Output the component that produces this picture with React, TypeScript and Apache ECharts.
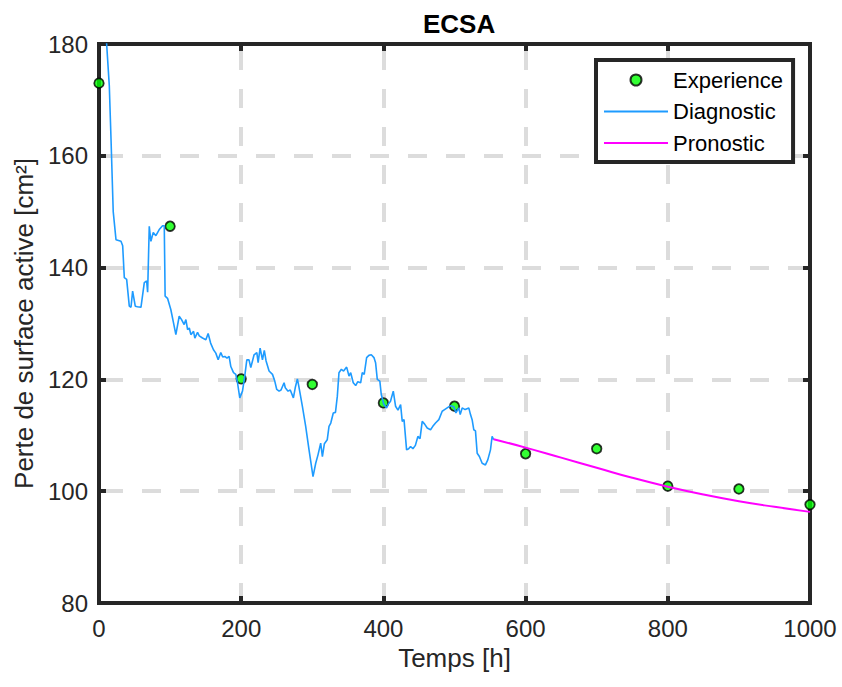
import React, { useEffect, useRef } from 'react';
import * as echarts from 'echarts';

const xTickValues = [0, 200, 400, 600, 800, 1000];
const yTickValues = [80, 100, 120, 140, 160, 180];

const experienceHours = [0, 100, 200, 300, 400, 500, 600, 700, 800, 900, 1000];
const experienceValues = [173, 147.4, 120.1, 119.1, 115.8, 115.2, 106.7, 107.6, 100.9, 100.4, 97.6];

const diagnosticHours = [
  9, 14.5, 16.9, 20, 23.9, 30.9, 33.3, 35.6, 38.9, 42.6, 45, 47.3, 51, 54, 59, 63.7, 67, 68.4, 70.7, 73,
  76.3, 80, 84.7, 89.4, 91.8, 93, 96.4, 101, 104.8, 108.1, 112.8, 116.1, 119.8, 122.2, 124.6, 127, 129.2, 133, 134.8, 138.6,
  141, 145.6, 150.3, 153.5, 157, 161, 164.3, 167.6, 171.3, 174, 177, 180, 183, 185.4, 189.2, 192.4, 194.8, 198, 201.8, 205,
  207.9, 211, 213.5, 218.1, 222, 223.8, 226.6, 229.9, 232.5, 235, 239.2, 244, 247.2, 250, 253.3, 256, 260.3, 262, 265.9, 269,
  273.4, 276, 279, 281, 286, 290.7, 295.4, 301, 304.8, 308, 311.8, 314.2, 317, 321, 323.5, 326, 329.5, 332.6, 335.2, 337.5,
  340.9, 344, 348.3, 351.6, 354, 357.6, 361, 364, 368, 370.3, 373, 376.4, 379.6, 383, 386.7, 389, 391.4, 395, 397, 400.7,
  404.5, 407, 410, 413.9, 417.1, 420.5, 424.2, 426.5, 429, 432.6, 435.5, 438.2, 441.5, 445, 448.5, 451.5, 454.6, 458, 461.6, 466.3,
  469.5, 473.3, 478, 482.7, 485, 489.7, 494.4, 499, 502, 506, 508, 510.8, 515, 520.1, 522.5, 524.8, 527.1, 529.5, 531.9, 535,
  538.9, 543.5, 546.8, 550.6, 552.9, 555.2,
];
const diagnosticValues = [
  183.5, 172.5, 163, 150, 145, 144.7, 143.9, 138.2, 137.9, 133.1, 132.9, 135.8, 133.1, 133, 132.9, 137.3, 137.6, 135.6, 147.4, 144.7,
  146.3, 145.7, 146.8, 147.5, 147.5, 134.9, 134.5, 132.5, 130.1, 128, 131.3, 130.7, 129.8, 130.7, 128.9, 129.2, 128, 128.6, 127.4, 128.4,
  127.8, 127.4, 127.1, 128.2, 126.5, 125.3, 124.7, 123.5, 124.8, 124, 124.1, 123.8, 124.1, 122.3, 121.2, 120.9, 119.4, 116.7, 117.9, 120.6,
  123.5, 123.5, 122.1, 124.4, 124.8, 123, 125.6, 123.5, 125.2, 123.3, 121.5, 120.9, 119.7, 118.2, 117.9, 118.1, 119.4, 118.5, 117.9, 118.1,
  116.7, 118.5, 120.1, 118.8, 115.2, 111.6, 107.4, 102.6, 105, 106.5, 108.6, 106.2, 108.5, 109.2, 111.6, 112.2, 114, 114.1, 117, 121.2,
  121.8, 121.5, 122.2, 120.6, 121.2, 119.4, 118.9, 119.6, 119.4, 121.2, 120.9, 123.9, 124.3, 124.4, 123.9, 123, 120, 119.7, 117.3, 115.5,
  114.9, 115.6, 116.1, 117.9, 115.2, 114.5, 115.5, 112.5, 112.8, 107.4, 107.6, 108, 107.6, 108.2, 109.8, 109.4, 112.5, 112, 111.3, 111,
  111.6, 112.2, 112.8, 114.3, 114.5, 114.9, 115.3, 115.1, 114, 114.9, 113.7, 114.9, 114.6, 114.9, 113.7, 112.8, 111, 110.8, 106.8, 106.2,
  105, 104.7, 105.6, 107.4, 109.8, 109.2,
];

const pronosticHours = [555, 600, 650, 700, 750, 800, 850, 900, 950, 1000];
const pronosticValues = [109.3, 107.8, 106, 104.2, 102.4, 100.8, 99.4, 98.2, 97.2, 96.3];

const FONT = "'Liberation Sans', Arial, Helvetica, sans-serif";
const AXIS_COLOR = '#262626';
const LINE_ICON = 'path://M0,0 L32,0 L32,1 L0,1 Z';

export default function App() {
  const ref = useRef<HTMLDivElement>(null);

  useEffect(() => {
    if (!ref.current) return;
    const chart = echarts.init(ref.current, undefined, { renderer: 'svg' });
    const zip = (xs: number[], ys: number[]) => xs.map((x, i) => [x, ys[i]]);
    const plain = (v: number) => String(v);

    const frameLine = { show: true, onZero: false, lineStyle: { color: AXIS_COLOR, width: 4, cap: 'square' } };
    const tick = { show: true, inside: true, length: 7, lineStyle: { color: AXIS_COLOR, width: 4 } };

    const baseX = {
      type: 'value' as const,
      min: xTickValues[0],
      max: xTickValues[xTickValues.length - 1],
      interval: 200,
    };
    const baseY = {
      type: 'value' as const,
      min: yTickValues[0],
      max: yTickValues[yTickValues.length - 1],
      interval: 20,
    };

    chart.setOption({
      animation: false,
      backgroundColor: '#ffffff',
      textStyle: { fontFamily: FONT },
      title: {
        text: 'ECSA',
        left: 418,
        top: 6,
        textStyle: { fontFamily: FONT, fontSize: 26, fontWeight: 'bold', color: '#000000' },
      },
      grid: {
        left: 99,
        right: 32,
        top: 44,
        bottom: 84,
        show: false,
      },
      legend: {
        orient: 'vertical',
        left: 596,
        top: 60,
        itemWidth: 64,
        itemHeight: 11,
        itemGap: 7.5,
        padding: [8, 10, 7, 8],
        borderColor: AXIS_COLOR,
        borderWidth: 4,
        backgroundColor: '#ffffff',
        textStyle: { fontFamily: FONT, fontSize: 22, lineHeight: 24, color: '#000000' },
        data: [
          { name: 'Experience', icon: 'circle' },
          { name: 'Diagnostic', icon: LINE_ICON },
          { name: 'Pronostic', icon: LINE_ICON },
        ],
      },
      xAxis: [
        {
          ...baseX,
          position: 'bottom',
          name: 'Temps [h]',
          nameLocation: 'middle',
          nameGap: 42,
          nameTextStyle: { fontFamily: FONT, fontSize: 26, color: AXIS_COLOR },
          axisLine: frameLine,
          axisTick: tick,
          axisLabel: { fontFamily: FONT, fontSize: 24, color: AXIS_COLOR, margin: 13, formatter: plain },
          splitLine: {
            show: true,
            showMinLine: false,
            showMaxLine: false,
            lineStyle: { color: '#dcdcdc', width: 4, type: [19, 19], dashOffset: 31 },
          },
        },
        {
          ...baseX,
          position: 'top',
          axisLine: frameLine,
          axisTick: tick,
          axisLabel: { show: false },
          splitLine: { show: false },
        },
      ],
      yAxis: [
        {
          ...baseY,
          position: 'left',
          name: 'Perte de surface active [cm²]',
          nameLocation: 'middle',
          nameGap: 58,
          nameTextStyle: { fontFamily: FONT, fontSize: 26, color: AXIS_COLOR },
          axisLine: frameLine,
          axisTick: tick,
          axisLabel: { fontFamily: FONT, fontSize: 24, color: AXIS_COLOR, margin: 11, formatter: plain },
          splitLine: {
            show: true,
            showMinLine: false,
            showMaxLine: false,
            lineStyle: { color: '#dcdcdc', width: 4, type: [19, 19], dashOffset: 33 },
          },
        },
        {
          ...baseY,
          position: 'right',
          axisLine: frameLine,
          axisTick: tick,
          axisLabel: { show: false },
          splitLine: { show: false },
        },
      ],
      series: [
        {
          name: 'Experience',
          type: 'scatter',
          xAxisIndex: 0,
          yAxisIndex: 0,
          symbol: 'circle',
          symbolSize: 9.5,
          z: 5,
          itemStyle: { color: '#00ff00', borderColor: '#000000', borderWidth: 1.8 },
          data: zip(experienceHours, experienceValues),
        },
        {
          name: 'Diagnostic',
          type: 'line',
          xAxisIndex: 0,
          yAxisIndex: 0,
          symbol: 'none',
          z: 6,
          lineStyle: { color: '#1e9bff', width: 1.6 },
          itemStyle: { color: '#1e9bff' },
          data: zip(diagnosticHours, diagnosticValues),
        },
        {
          name: 'Pronostic',
          type: 'line',
          xAxisIndex: 0,
          yAxisIndex: 0,
          symbol: 'none',
          smooth: true,
          z: 6,
          lineStyle: { color: '#ff00ff', width: 2 },
          itemStyle: { color: '#ff00ff' },
          data: zip(pronosticHours, pronosticValues),
        },
      ],
    });

    return () => {
      chart.dispose();
    };
  }, []);

  return (
    <div
      ref={ref}
      style={{ position: 'fixed', left: 0, top: 0, width: 842, height: 687, background: '#ffffff' }}
    />
  );
}
